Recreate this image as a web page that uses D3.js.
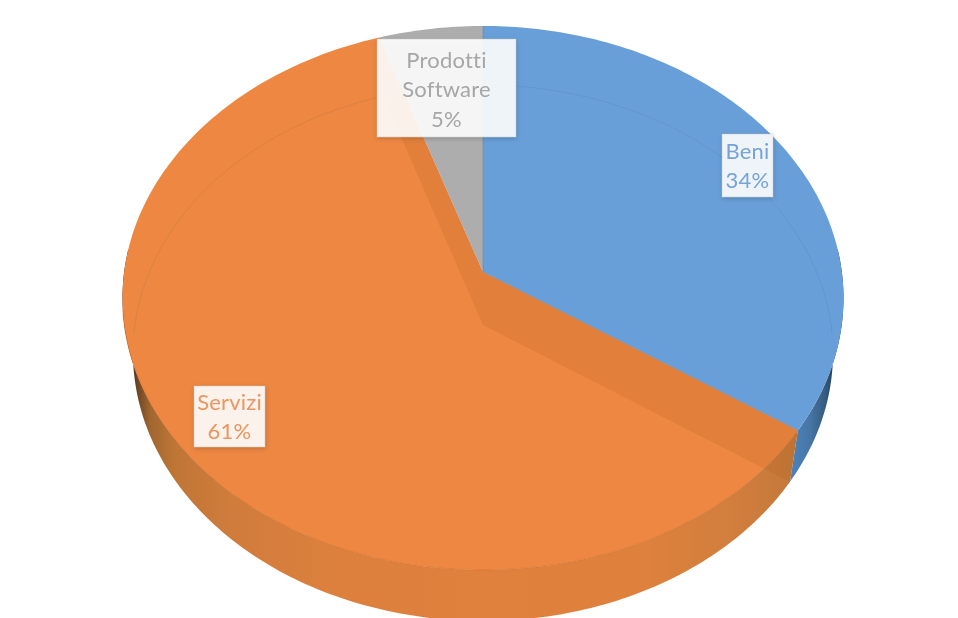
<!DOCTYPE html>
<html><head><meta charset="utf-8">
<script src="https://cdn.jsdelivr.net/npm/d3@7"></script>
<style>html,body{margin:0;padding:0;background:#fff;overflow:hidden}svg{display:block}text{font-family:Lato,"Open Sans",sans-serif;font-variant-ligatures:none}</style>
</head><body><svg id="c" width="958" height="618"></svg>
<script>
const categories = ["Beni", "Servizi", "Prodotti Software"];
const values = [34.4, 60.5, 5.1];
const percentLabels = ["34%", "61%", "5%"];
const sliceColors = ["#689fd8", "#ed8742", "#adadad"];
const labelColors = ["#76a4d8", "#ec9560", "#a6a6a6"];

// perspective of the pie disc: top face and bottom face
const topFace = {cx:483, cy:272, far:246, near:298, half:360.5};
const botFace = {cx:483, cy:325, far:240, near:296, half:350};
function projector(f){
  const A = 2/(1/f.far+1/f.near), k = A/f.far-1, B = f.half*Math.sqrt(1-k*k);
  return a => { const u=Math.sin(a), v=Math.cos(a), w=1+k*v; return [f.cx+B*u/w, f.cy-A*v/w]; };
}
const pTop = projector(topFace), pBot = projector(botFace);
const arcs = d3.pie().sort(null).value(d=>d)(values);
const line = d3.line();
const samples = (a0,a1) => { const n=Math.max(2,Math.ceil(Math.abs(a1-a0)*60)); return d3.range(n+1).map(i=>a0+(a1-a0)*i/n); };
const rad = Math.PI/180;

const svg = d3.select("#c");
const defs = svg.append("defs");
defs.append("filter").attr("id","soft").attr("x","-5%").attr("y","-5%").attr("width","110%").attr("height","110%")
  .append("feGaussianBlur").attr("stdDeviation",0.55);
const sh = defs.append("filter").attr("id","shadow").attr("x","-20%").attr("y","-20%").attr("width","140%").attr("height","140%");
sh.append("feDropShadow").attr("dx",0.5).attr("dy",1.5).attr("stdDeviation",2).attr("flood-color","#000").attr("flood-opacity",0.2);
function grad(id,stops){
  const g=defs.append("linearGradient").attr("id",id).attr("gradientUnits","userSpaceOnUse")
    .attr("x1",120).attr("x2",845).attr("y1",0).attr("y2",0);
  stops.forEach(s=>g.append("stop").attr("offset",(s[0]-120)/725).attr("stop-color",s[1]));
}
grad("wallO",[[128,"#2e2015"],[137,"#6b4526"],[150,"#a0662f"],[175,"#bf7636"],[230,"#d07c3b"],[330,"#dc803e"],[480,"#e0813e"],[640,"#de813e"],[730,"#d27e3e"],[800,"#c27839"]]);
grad("wallB",[[785,"#5088c2"],[810,"#4675a5"],[825,"#355c80"],[838,"#1e3346"]]);

const g = svg.append("g").attr("filter","url(#soft)");
// outer walls
const wallFill = ["url(#wallB)","url(#wallO)"];
[[85*rad, arcs[0].endAngle],[arcs[1].startAngle, 275*rad]].forEach((r,i)=>{
  const t = samples(r[0],r[1]);
  g.append("path").attr("d", line(t.map(pTop).concat(t.slice().reverse().map(pBot)))+"Z").attr("fill",wallFill[i]);
});
// top faces
g.selectAll("path.top").data(arcs).join("path").attr("class","top")
  .attr("d", d => line([[topFace.cx,topFace.cy]].concat(samples(d.startAngle,d.endAngle).map(pTop)))+"Z")
  .attr("fill",(d,i)=>sliceColors[i]);
// inner cut walls of Servizi seen through the face
[arcs[1].startAngle, arcs[1].endAngle].forEach(a=>{
  g.append("path").attr("d", line([[topFace.cx,topFace.cy],pTop(a),pBot(a),[botFace.cx,botFace.cy]])+"Z")
    .attr("fill","#a85a20").attr("opacity",0.17);
});
// faint back rim of the bottom face
g.append("path").attr("d",line(samples(-92*rad,92*rad).map(pBot))).attr("fill","none").attr("stroke","#3b4a5a").attr("stroke-opacity",0.1).attr("stroke-width",1);
// front rim of the top face
g.append("path").attr("d",line(samples(arcs[1].startAngle,262*rad).map(pTop))).attr("fill","none").attr("stroke","#cf6a22").attr("stroke-opacity",0.5).attr("stroke-width",1);
// seam lines
g.append("path").attr("d",line([[topFace.cx,topFace.cy],pTop(arcs[1].startAngle)])).attr("stroke","#8a6a50").attr("stroke-opacity",0.3).attr("fill","none");
g.append("path").attr("d",line([[topFace.cx,topFace.cy],pTop(0)])).attr("stroke","#5f7f9f").attr("stroke-opacity",0.5).attr("fill","none");

// data labels
const labelBoxes = [{x:722,y:134,w:51,h:63,base:159},{x:194,y:386,w:71,h:61,base:410},{x:377,y:39,w:139,h:98,base:68}];
const labelLines = categories.map((c,i)=> (i===2 ? c.split(" ") : [c]).concat(percentLabels[i]));
const lab = svg.selectAll("g.lab").data(labelBoxes).join("g").attr("class","lab");
lab.append("rect").attr("x",d=>d.x).attr("y",d=>d.y).attr("width",d=>d.w).attr("height",d=>d.h)
  .attr("fill","#ffffff").attr("fill-opacity",0.89).attr("stroke","#bdbdbd").attr("stroke-opacity",0.4).attr("filter","url(#shadow)");
lab.each(function(d,i){
  const sel=d3.select(this);
  labelLines[i].forEach((t,j)=>{
    sel.append("text").attr("x",d.x+d.w/2).attr("y",d.base+j*29.3).attr("text-anchor","middle")
      .attr("font-size",22).attr("letter-spacing",0.2).attr("fill",labelColors[i]).attr("filter","url(#soft)").text(t);
  });
});
</script></body></html>
